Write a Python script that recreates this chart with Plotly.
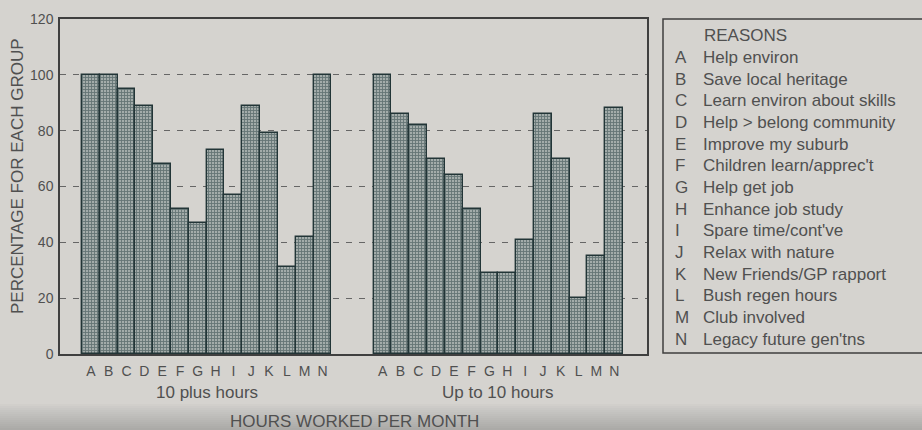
import plotly.graph_objects as go

# ---- data ----
letters = list("ABCDEFGHIJKLMN")
groups = ["10 plus hours", "Up to 10 hours"]
ten_plus = [100, 100, 95, 89, 68, 52, 47, 73, 57, 89, 79, 31, 42, 100]
up_to_ten = [100, 86, 82, 70, 64, 52, 29, 29, 41, 86, 70, 20, 35, 88]
reasons = [
    "Help environ",
    "Save local heritage",
    "Learn environ about skills",
    "Help &gt; belong community",
    "Improve my suburb",
    "Children learn/apprec't",
    "Help get job",
    "Enhance job study",
    "Spare time/cont've",
    "Relax with nature",
    "New Friends/GP rapport",
    "Bush regen hours",
    "Club involved",
    "Legacy future gen'tns",
]
y_ticks = [0, 20, 40, 60, 80, 100, 120]

# ---- layout helpers ----
GROUP_OFFSET = 16.37
pos_left = [i for i in range(len(letters))]
pos_right = [i + GROUP_OFFSET for i in range(len(letters))]

FONT = "Liberation Sans, Arial, sans-serif"
TXT = "#505050"
BG = "#d5d3cf"
W, H = 922, 430
L, R, T, B = 60, 275, 19, 76
PW = W - L - R
PH = H - T - B


def px_x(px):
    return (px - L) / PW


def px_y(py):
    return (H - B - py) / PH


bar_style = dict(
    color="#9aa4a1",
    line=dict(color="#223537", width=1.4),
    pattern=dict(shape="+", fgcolor="#273e40", bgcolor="#a3acaa", size=3, solidity=0.5),
)

fig = go.Figure()
fig.add_trace(go.Bar(x=pos_left, y=ten_plus, width=1, marker=bar_style, name=groups[0], showlegend=False))
fig.add_trace(go.Bar(x=pos_right, y=up_to_ten, width=1, marker=bar_style, name=groups[1], showlegend=False))

fig.update_layout(
    width=W,
    height=H,
    margin=dict(l=L, r=R, t=T, b=B),
    paper_bgcolor=BG,
    plot_bgcolor=BG,
    bargap=0,
    font=dict(family=FONT, color=TXT),
)

fig.update_xaxes(
    range=[-1.73, GROUP_OFFSET + 13 + 1.84],
    tickvals=pos_left + pos_right,
    ticktext=letters + letters,
    tickfont=dict(size=14, color=TXT),
    ticks="",
    ticklabelstandoff=3,
    showgrid=False,
    zeroline=False,
    showline=True,
    mirror=True,
    linecolor="#3f3f3f",
    linewidth=1.5,
)
fig.update_yaxes(
    range=[0, 120],
    tickvals=y_ticks,
    ticktext=[str(v) for v in y_ticks],
    tickfont=dict(size=14, color=TXT),
    ticks="",
    ticklabelstandoff=2,
    showgrid=True,
    gridcolor="#666666",
    gridwidth=1,
    griddash="6px,7px",
    zeroline=False,
    showline=True,
    mirror=True,
    linecolor="#3f3f3f",
    linewidth=1.5,
)

annotations = []
# group labels
for g, pos in zip(groups, [pos_left, pos_right]):
    annotations.append(dict(
        x=sum(pos) / len(pos), xref="x", y=px_y(392), yref="paper",
        text=g, showarrow=False, font=dict(size=17, color=TXT),
        xanchor="center", yanchor="middle",
    ))
# x-axis title
annotations.append(dict(
    x=px_x(355), xref="paper", y=px_y(421), yref="paper",
    text="HOURS WORKED PER MONTH", showarrow=False, font=dict(size=17, color=TXT),
    xanchor="center", yanchor="middle",
))
# y-axis title
annotations.append(dict(
    x=px_x(18), xref="paper", y=px_y(176), yref="paper",
    text="PERCENTAGE FOR EACH GROUP", showarrow=False, textangle=-90,
    font=dict(size=17, color=TXT), xanchor="center", yanchor="middle",
))
# legend box content
annotations.append(dict(
    x=px_x(702), xref="paper", y=px_y(35), yref="paper",
    text="REASONS", showarrow=False, font=dict(size=17, color=TXT),
    xanchor="left", yanchor="middle",
))
for i, (letter, reason) in enumerate(zip(letters, reasons)):
    yc = 57.7 + 21.65 * i
    annotations.append(dict(
        x=px_x(673), xref="paper", y=px_y(yc), yref="paper",
        text=letter, showarrow=False, font=dict(size=17, color=TXT),
        xanchor="left", yanchor="middle",
    ))
    annotations.append(dict(
        x=px_x(701), xref="paper", y=px_y(yc), yref="paper",
        text=reason, showarrow=False, font=dict(size=17, color=TXT),
        xanchor="left", yanchor="middle",
    ))
fig.update_layout(annotations=annotations)

fig.add_shape(
    type="rect", xref="paper", yref="paper",
    x0=px_x(663), x1=px_x(940), y0=px_y(353), y1=px_y(19),
    line=dict(color="#3f3f3f", width=1.5), fillcolor="rgba(0,0,0,0)",
)

# soft darker photographic band at the bottom edge
for top in range(404, 430, 2):
    fig.add_shape(
        type="rect", xref="paper", yref="paper", layer="below",
        x0=px_x(-20), x1=px_x(960), y0=px_y(440), y1=px_y(top),
        line=dict(width=0), fillcolor="rgba(70,70,70,0.018)",
    )

fig.write_html(
    "out.html",
    config={"displayModeBar": False},
    post_script="document.body.style.margin='0';document.body.style.padding='0';",
)
